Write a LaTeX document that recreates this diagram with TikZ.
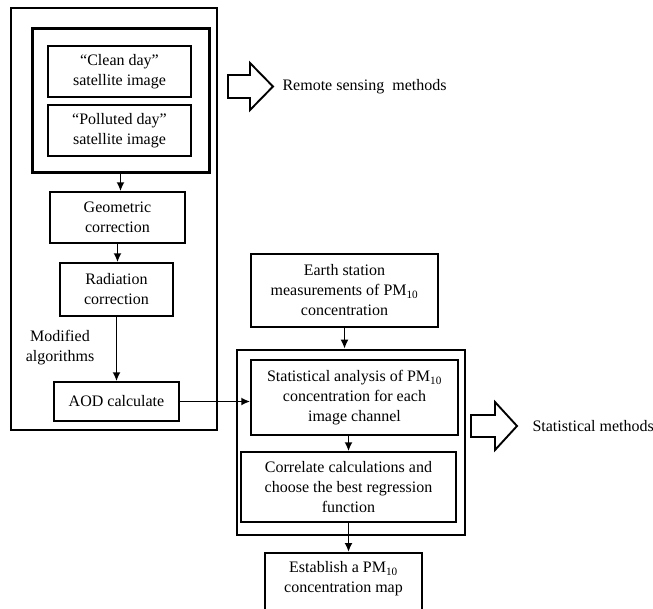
\documentclass[tikz,border=0pt]{standalone}
\usepackage{fontspec}
\setmainfont{Liberation Serif}
\usetikzlibrary{arrows.meta}
\begin{document}
\begin{tikzpicture}[x=1pt,y=-1pt,
	every node/.style={font=\fontsize{16}{20}\selectfont},
	box/.style={draw,line width=1.5pt,align=center,inner sep=0pt},
	frame/.style={draw,line width=2.6pt,inner sep=0pt},
	flow/.style={-{Latex[length=9pt,width=8pt]},line width=1.9pt},
	bigarrow/.style={line width=1.9pt,line join=miter}]
		\useasboundingbox (0,0) rectangle (653,608);
		\clip (0,0) rectangle (653,608);
		% remote sensing part
		\node[frame,minimum width=206pt,minimum height=422pt] (rsframe) at (114,219) {};
		\node[frame,line width=3pt,minimum width=177pt,minimum height=144pt] (srcframe) at (120.5,100) {};
		\node[box,minimum width=143pt,minimum height=51pt] (clean) at (119.5,71.5) {``Clean day''\\satellite image};
		\node[box,minimum width=143pt,minimum height=51pt] (polluted) at (119.5,130.5) {``Polluted day''\\satellite image};
		\node[box,minimum width=135pt,minimum height=51pt] (geo) at (117.5,217.5) {Geometric\\correction};
		\node[box,minimum width=113pt,minimum height=53pt] (rad) at (116.5,289.5) {Radiation\\correction};
		\node[box,minimum width=125pt,minimum height=39pt] (aod) at (116.5,401.5) {AOD calculate};
		\node[align=center] (modlbl) at (60,348) {Modified\\algorithms};
		% statistical part
		\node[box,minimum width=187pt,minimum height=73pt] (earth) at (344.5,290.5) {Earth station\\measurements of PM\textsubscript{10}\\concentration};
		\node[frame,minimum width=228pt,minimum height=185pt] (statframe) at (351,442.5) {};
		\node[box,minimum width=207pt,minimum height=75pt] (stat) at (354.5,397.5) {Statistical analysis of PM\textsubscript{10}\\concentration for each\\image channel};
		\node[box,minimum width=215pt,minimum height=70pt] (corr) at (348.5,487) {Correlate calculations and\\choose the best regression\\function};
		\node[box,minimum width=157pt,minimum height=66pt,anchor=north] (estab) at (343.5,552) {\raisebox{0pt}[\height][\dimexpr\depth+14pt\relax]{\begin{tabular}{@{}c@{}}Establish a PM\textsubscript{10}\\concentration map\end{tabular}}};
		% flow arrows
		\draw[flow] (srcframe.south) -- (srcframe.south |- geo.north);
		\draw[flow] (geo.south) -- (geo.south |- rad.north);
		\draw[flow] (rad.south) -- (rad.south |- aod.north);
		\draw[flow] (aod.east) -- (aod.east -| stat.west);
		\draw[flow] (earth.south) -- (earth.south |- statframe.north);
		\draw[flow] (stat.south -| corr.north) -- (corr.north);
		\draw[flow] (corr.south) -- (corr.south |- estab.north);
		% method arrows
		\draw[bigarrow] (228,75) -- (250,75) -- (250,63) -- (273,86.5) -- (250,110) -- (250,98) -- (228,98) -- cycle;
		\node[anchor=west] (rslbl) at (279,86.5) {Remote sensing \ methods};
		\draw[bigarrow] (471,415) -- (495,415) -- (495,402) -- (517,426) -- (495,450) -- (495,437) -- (471,437) -- cycle;
		\node[anchor=west] (stlbl) at (529,426) {Statistical methods};
	\end{tikzpicture}
\end{document}
